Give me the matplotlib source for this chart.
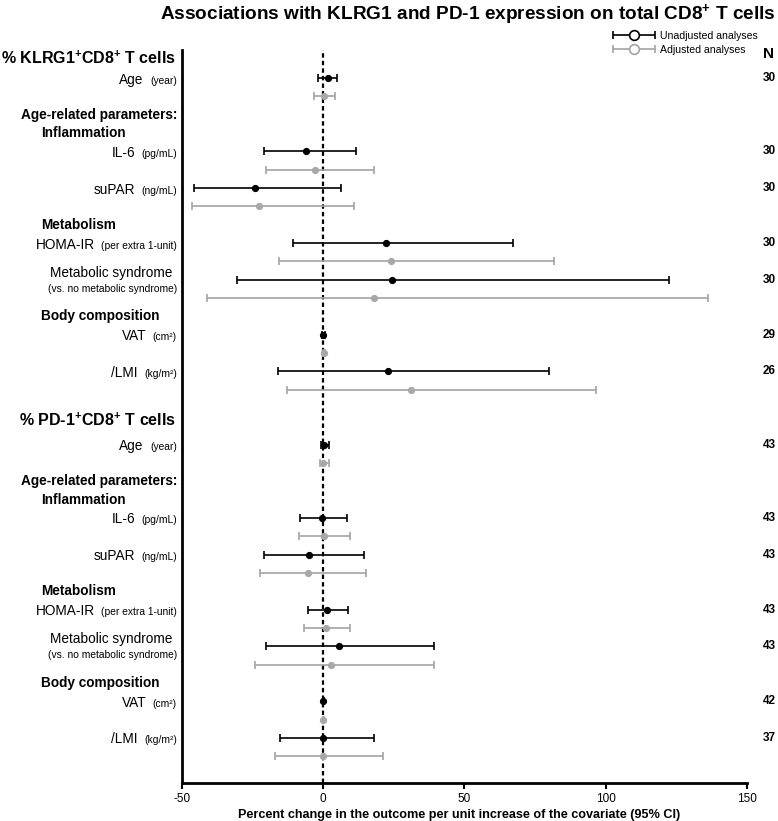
import matplotlib
matplotlib.use("Agg")
import matplotlib.pyplot as plt
import numpy as np
from matplotlib.transforms import blended_transform_factory
from matplotlib.legend_handler import HandlerErrorbar
from matplotlib.container import ErrorbarContainer

plt.rcParams['font.family'] = ['Liberation Sans', 'DejaVu Sans']
plt.rcParams['mathtext.fontset'] = 'custom'
plt.rcParams['mathtext.rm'] = 'Liberation Sans'
plt.rcParams['mathtext.bf'] = 'Liberation Sans:bold'
plt.rcParams['axes.unicode_minus'] = False

# covariates, same order in both blocks
covariates = ["Age", "IL-6", "suPAR", "HOMA-IR", "Metabolic syndrome", "VAT", "/LMI"]
units = ["(year)", "(pg/mL)", "(ng/mL)", "(per extra 1-unit)",
         "(vs. no metabolic syndrome)", "(cm²)", "(kg/m²)"]
block_titles = [r"% KLRG1$^\mathbf{+}$CD8$^\mathbf{+}$ T cells",
                r"% PD-1$^\mathbf{+}$CD8$^\mathbf{+}$ T cells"]
subheaders = ["Age-related parameters:", "Inflammation", "Metabolism", "Body composition"]

klrg1_n = [30, 30, 30, 30, 30, 29, 26]
pd1_n = [43, 43, 43, 43, 43, 42, 37]

# % change (95% CI), KLRG1+CD8+
klrg1_unadj = [1.6, -6.1, -24.1, 22.3, 24.4, 0.1, 23.1]
klrg1_unadj_lo = [-1.8, -21.0, -45.9, -10.8, -30.6, -0.3, -16.1]
klrg1_unadj_hi = [5.0, 11.6, 6.3, 67.2, 122.5, 0.5, 80.1]
klrg1_adj = [0.4, -2.9, -22.8, 24.0, 17.9, 0.2, 31.1]
klrg1_adj_lo = [-3.3, -20.1, -46.3, -15.6, -41.2, -0.2, -12.8]
klrg1_adj_hi = [4.3, 18.0, 10.9, 81.9, 136.3, 0.6, 96.8]

# % change (95% CI), PD-1+CD8+
pd1_unadj = [0.3, -0.4, -5.1, 1.4, 5.5, 0.0, -0.2]
pd1_unadj_lo = [-0.9, -8.2, -21.1, -5.3, -20.1, -0.2, -15.4]
pd1_unadj_hi = [2.0, 8.4, 14.3, 8.9, 39.1, 0.2, 18.1]
pd1_adj = [-0.1, 0.3, -5.4, 1.0, 2.6, 0.0, 0.1]
pd1_adj_lo = [-1.3, -8.4, -22.4, -6.9, -24.0, -0.2, -16.9]
pd1_adj_hi = [1.9, 9.4, 15.3, 9.5, 39.1, 0.2, 21.1]

# layout (row slots)
row_slot = [0, 4, 6, 9, 11, 14, 16]
sub_slot = [2, 3, 8, 13]
block_offset = [0, 20]
title_slot = [-1.06, 18.7]

BLACK = '#000000'
GREY = '#a3a3a3'

fig = plt.figure(figsize=(7.78, 8.21), dpi=100)
ax = fig.add_axes([182 / 778, 38 / 821, 564.7 / 778, 733 / 821])
ax.set_xlim(-50, 150)
ax.set_ylim(38.46, -1.53)

lab_tr = blended_transform_factory(ax.transAxes, ax.transData)
fig_tr = blended_transform_factory(fig.transFigure, ax.transData)


def draw_bars(est, lo, hi, ys, color, mcolor):
    xerr = [[e - l for e, l in zip(est, lo)], [h - e for e, h in zip(est, hi)]]
    ax.errorbar(est, ys, xerr=xerr, fmt='o', color=color, ecolor=color,
                mfc=mcolor, mec=mcolor, ms=4.2, elinewidth=1.2,
                capsize=2.6, capthick=1.2, zorder=3)


blocks = [
    (klrg1_unadj, klrg1_unadj_lo, klrg1_unadj_hi, klrg1_adj, klrg1_adj_lo, klrg1_adj_hi, klrg1_n),
    (pd1_unadj, pd1_unadj_lo, pd1_unadj_hi, pd1_adj, pd1_adj_lo, pd1_adj_hi, pd1_n),
]

for b, (ue, ul, uh, ae, al, ah, nn) in enumerate(blocks):
    off = block_offset[b]
    ys = [off + s for s in row_slot]
    draw_bars(ue, ul, uh, ys, BLACK, BLACK)
    draw_bars(ae, al, ah, [y + 1 for y in ys], GREY, '#a8a8a8')

    ax.text(-0.011, title_slot[b], block_titles[b], transform=lab_tr,
            ha='right', va='center', fontsize=11.5, fontweight='bold')

    # sub headers
    ax.text(-0.009, off + sub_slot[0], subheaders[0], transform=lab_tr,
            ha='right', va='center', fontsize=9.8, fontweight='bold')
    for name, s in zip(subheaders[1:], sub_slot[1:]):
        ax.text(41 / 778, off + s, name, transform=fig_tr,
                ha='left', va='center', fontsize=9.8, fontweight='bold')

    # covariate labels
    for i, y in enumerate(ys):
        if covariates[i] == "Metabolic syndrome":
            ax.text(-0.017, y - 0.38, covariates[i], transform=lab_tr,
                    ha='right', va='center', fontsize=9.8)
            ax.text(-0.008, y + 0.5, units[i], transform=lab_tr,
                    ha='right', va='center', fontsize=7.4)
        else:
            u = ax.text(-0.009, y + 0.3, units[i], transform=lab_tr,
                        ha='right', va='baseline', fontsize=7.4)
            ax.annotate(covariates[i], xy=(0, y + 0.3), xycoords=(u, 'data'),
                        xytext=(-4.5, 0), textcoords='offset points',
                        ha='right', va='baseline', fontsize=9.8)
        ax.text(769 / 778, y, str(nn[i]), transform=fig_tr,
                ha='center', va='center', fontsize=8.5, fontweight='bold')

ax.text(769 / 778, -1.31, "N", transform=fig_tr, ha='center', va='center',
        fontsize=11, fontweight='bold')

ax.axvline(0, color='black', lw=1.6, ls=(0, (2, 1.4)), zorder=2)

for side in ['top', 'right']:
    ax.spines[side].set_visible(False)
ax.spines['left'].set_linewidth(2)
ax.spines['bottom'].set_linewidth(2)
ax.set_yticks([])
ax.set_xticks([-50, 0, 50, 100, 150])
ax.tick_params(axis='x', labelsize=8.5, length=4, width=1.5, pad=3)

# legend proxies (no visible data)
h1 = ax.errorbar([np.nan], [np.nan], xerr=[1], fmt='o', color=BLACK, mfc='white',
                 mec=BLACK, ms=7, mew=1.2, elinewidth=1.2, capsize=3, capthick=1.2)
h2 = ax.errorbar([np.nan], [np.nan], xerr=[1], fmt='o', color=GREY, mfc='white',
                 mec=GREY, ms=7, mew=1.2, elinewidth=1.2, capsize=3, capthick=1.2)
fig.legend([h1, h2], ["Unadjusted analyses", "Adjusted analyses"],
           loc='upper left', bbox_to_anchor=(613 / 778, 1 - 31 / 821),
           frameon=False, fontsize=7.6, handlelength=4.0, handletextpad=0.45,
           labelspacing=0.35, borderpad=0, borderaxespad=0,
           handler_map={ErrorbarContainer: HandlerErrorbar(xerr_size=2.0)})

fig.text(0.601, 1 - 15 / 821,
         r"Associations with KLRG1 and PD-1 expression on total CD8$^\mathbf{+}$ T cells",
         ha='center', va='center', fontsize=13.7, fontweight='bold')
fig.text(459.5 / 778, 1 - 815 / 821,
         "Percent change in the outcome per unit increase of the covariate (95% CI)",
         ha='center', va='center', fontsize=9.1, fontweight='bold')

fig.savefig("out.png", dpi=100)
